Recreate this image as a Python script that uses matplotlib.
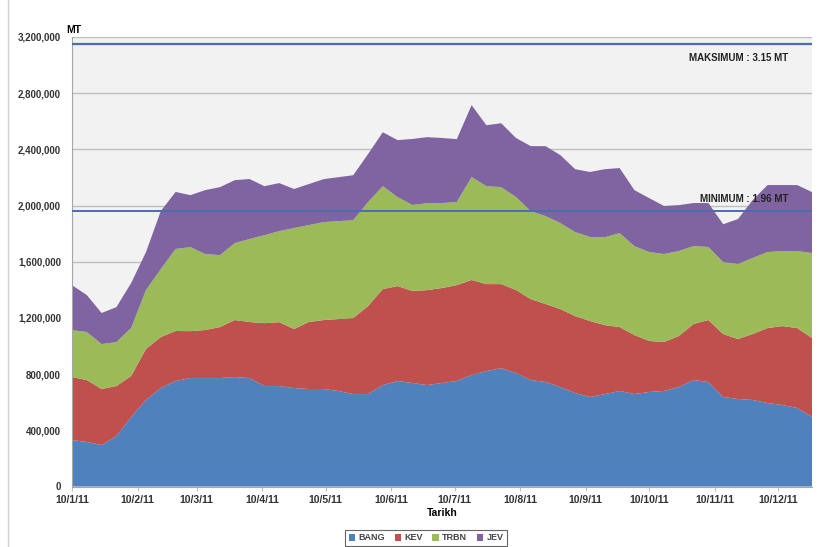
import matplotlib
matplotlib.use("Agg")
import matplotlib.pyplot as plt
from matplotlib.lines import Line2D
from matplotlib.ticker import FuncFormatter
import pandas as pd

plt.rcParams['font.family'] = ['Liberation Sans', 'DejaVu Sans']
plt.rcParams['font.weight'] = 'bold'

# weekly stock levels per terminal (MT)
dates = pd.date_range('2011-01-10', periods=51, freq='7D')

bang = [331000, 317000, 295000, 359000, 495000, 616000, 701000, 751000, 772000, 772000,
        772000, 779000, 772000, 715000, 715000, 701000, 694000, 694000, 680000, 658000,
        658000, 722000, 751000, 737000, 722000, 737000, 751000, 794000, 822000, 843000,
        808000, 758000, 744000, 708000, 665000, 637000, 658000, 680000, 658000, 673000,
        680000, 708000, 758000, 744000, 637000, 623000, 616000, 594000, 580000, 559000,
        495000]
kev = [448000, 441000, 399000, 356000, 292000, 363000, 363000, 356000, 334000, 342000,
       363000, 406000, 399000, 448000, 455000, 420000, 477000, 491000, 512000, 541000,
       626000, 683000, 676000, 655000, 676000, 676000, 683000, 676000, 619000, 598000,
       591000, 576000, 555000, 555000, 548000, 541000, 491000, 455000, 420000, 363000,
       349000, 363000, 399000, 441000, 448000, 427000, 470000, 534000, 562000, 569000,
       562000]
trbn = [334000, 342000, 320000, 313000, 342000, 420000, 484000, 584000, 598000, 541000,
        512000, 548000, 591000, 626000, 648000, 719000, 690000, 697000, 697000, 697000,
        740000, 733000, 633000, 612000, 619000, 605000, 591000, 733000, 697000, 690000,
        662000, 626000, 626000, 612000, 598000, 598000, 626000, 669000, 633000, 633000,
        626000, 605000, 555000, 520000, 512000, 534000, 541000, 541000, 534000, 548000,
        605000]
jev = [320000, 263000, 221000, 249000, 320000, 270000, 413000, 406000, 370000, 455000,
       484000, 448000, 427000, 349000, 342000, 278000, 292000, 306000, 313000, 320000,
       342000, 384000, 406000, 470000, 470000, 463000, 448000, 512000, 434000, 455000,
       420000, 463000, 498000, 484000, 448000, 463000, 484000, 463000, 399000, 384000,
       342000, 327000, 306000, 313000, 270000, 320000, 413000, 477000, 470000, 470000,
       434000]

labels = ['BANG', 'KEV', 'TRBN', 'JEV']
colors = ['#4f81bd', '#c0504d', '#9bbb59', '#8064a2']

maksimum = 3150000
minimum = 1960000

tick_dates = pd.date_range('2011-01-10', periods=12, freq=pd.DateOffset(months=1))
tick_labels = ['10/1/11', '10/2/11', '10/3/11', '10/4/11', '10/5/11', '10/6/11',
               '10/7/11', '10/8/11', '10/9/11', '10/10/11', '10/11/11', '10/12/11']

fig = plt.figure(figsize=(8.29, 5.47), dpi=100)
ax = fig.add_axes([72/829, 1 - 486.5/547, (812 - 72)/829, (486.5 - 37)/547])
ax.set_facecolor('#f2f2f2')

ax.stackplot(dates, bang, kev, trbn, jev, labels=labels, colors=colors, zorder=2)

ax.axhline(maksimum, color='#4a6db0', lw=1.6, zorder=3)
ax.axhline(minimum, color='#4a6db0', lw=1.4, zorder=3)
ax.text(dates[-1] - pd.Timedelta(days=11), 3050000, 'MAKSIMUM : 3.15 MT',
        ha='right', va='center', fontsize=7, color='#222222')
ax.text(dates[-1] - pd.Timedelta(days=11), 2045000, 'MINIMUM : 1.96 MT',
        ha='right', va='center', fontsize=7, color='#222222', zorder=4)

ax.set_ylim(0, 3200000)
ax.set_yticks(range(0, 3200001, 400000))
ax.yaxis.set_major_formatter(FuncFormatter(lambda v, p: f'{int(v):,}'))
ax.set_xlim(dates[0], dates[-1])
ax.set_xticks(tick_dates)
ax.set_xticklabels(tick_labels)

ax.grid(axis='y', color='#bfbfbf', lw=1, zorder=1)
ax.set_axisbelow(True)
for s in ['top', 'right']:
    ax.spines[s].set_visible(False)
ax.spines['left'].set_color('#a6a6a6')
ax.spines['bottom'].set_color('#a6a6a6')
ax.tick_params(axis='y', length=0, pad=8, labelsize=7, labelcolor='#333333')
ax.tick_params(axis='x', length=3, color='#bfbfbf', pad=3, labelsize=7.5, labelcolor='#333333')

ax.set_xlabel('Tarikh', fontsize=7.5, fontweight='bold', labelpad=2)
fig.text(66/829, 1 - 30/547, 'MT', fontsize=7.5, fontweight='bold', va='center')

leg = fig.legend(loc='center', bbox_to_anchor=(426/829, 1 - 538/547), ncol=4,
                 fontsize=6.5, frameon=True, fancybox=False, handlelength=0.7,
                 handleheight=0.7, handletextpad=0.35, columnspacing=1.1,
                 borderpad=0.4)
leg.get_frame().set_edgecolor('#404040')
leg.get_frame().set_linewidth(0.8)
for t in leg.get_texts():
    t.set_color('#444444')

# outer chart border on the left
fig.add_artist(Line2D([8/829, 8/829], [0, 1], color='#d0d0d0', lw=1))

fig.savefig('out.png', dpi=100)
